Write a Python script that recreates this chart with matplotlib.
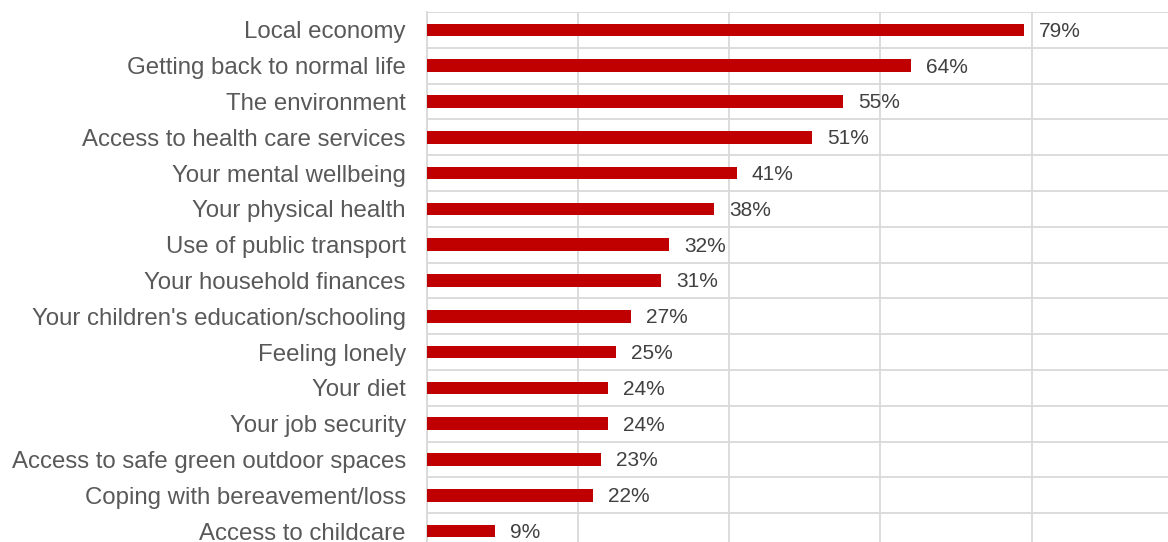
import matplotlib
matplotlib.use('Agg')
import matplotlib.pyplot as plt

plt.rcParams['font.family'] = ['Liberation Sans', 'DejaVu Sans']

# 数据
categories = [
    "Local economy",
    "Getting back to normal life",
    "The environment",
    "Access to health care services",
    "Your mental wellbeing",
    "Your physical health",
    "Use of public transport",
    "Your household finances",
    "Your children's education/schooling",
    "Feeling lonely",
    "Your diet",
    "Your job security",
    "Access to safe green outdoor spaces",
    "Coping with bereavement/loss",
    "Access to childcare",
]
values = [79, 64, 55, 51, 41, 38, 32, 31, 27, 25, 24, 24, 23, 22, 9]
xticks = [0, 20, 40, 60, 80, 100]

W, H = 1168, 542
fig = plt.figure(figsize=(W / 100, H / 100), dpi=100)
# 图被裁切：右侧和底部超出画布
left, right, top, bottom = 426.7, 1183, 12, 549
ax = fig.add_axes([left / W, 1 - bottom / H, (right - left) / W, (bottom - top) / H])

n = len(categories)
ypos = list(range(n))
ax.barh(ypos, values, height=0.35, color='#C00000', zorder=3)

for y, v in zip(ypos, values):
    ax.text(v + 2.0, y + 0.04, f"{v}%", va='center', ha='left', fontsize=15, color='#404040')

ax.set_xlim(0, 100)
ax.set_ylim(n - 0.5, -0.5)
ax.set_xticks(xticks)
ax.set_yticks(ypos)
ax.set_yticklabels(categories, fontsize=17.3, color='#595959')
ax.set_yticks([i - 0.5 for i in range(n + 1)], minor=True)

ax.grid(axis='x', which='major', color='#D9D9D9', linewidth=1.3, zorder=0)
ax.grid(axis='y', which='minor', color='#D9D9D9', linewidth=1.3, zorder=0)
ax.tick_params(axis='both', which='both', length=0)
ax.tick_params(axis='y', pad=15)
ax.set_xticklabels([])
for s in ax.spines.values():
    s.set_visible(False)
ax.spines['left'].set_visible(True)
ax.spines['left'].set_color('#D9D9D9')
ax.spines['left'].set_linewidth(1.3)

fig.savefig("out.png", dpi=100)
plt.close()
